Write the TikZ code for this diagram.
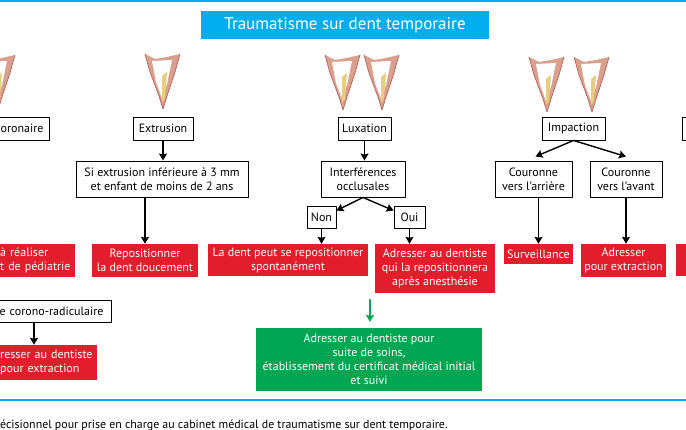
\documentclass[tikz,border=0pt]{standalone}
\usepackage{fontspec}
\setmainfont{PT Sans}
\usepackage{tikz}
\usetikzlibrary{arrows,arrows.meta}
\definecolor{traumRed}{RGB}{226,30,44}
\definecolor{traumGreen}{RGB}{0,166,81}
\definecolor{traumCyan}{RGB}{0,174,239}
\definecolor{toothGum}{RGB}{218,160,142}
\definecolor{toothRoot}{RGB}{232,204,128}
\definecolor{toothLine}{RGB}{184,96,86}
\newcommand{\MainColor}{black}
\newcommand{\BoxFont}{\fontsize{12}{14}\selectfont}
\tikzset{
  wbox/.style={draw=\MainColor,line width=0.9pt,fill=white,align=center,inner sep=0pt,font=\BoxFont},
  rbox/.style={fill=traumRed,text=white,align=center,inner sep=0pt,font=\BoxFont},
  gbox/.style={fill=traumGreen,text=white,align=center,inner sep=0pt,font=\BoxFont},
  arr/.style={->,line width=1.4pt,draw=\MainColor},
  tooth/.pic={
    \fill[toothGum] (0,0) -- (10,5) -- (22,3) -- (35,0) -- (30,18) -- (22,42) -- (18,55) -- (14,42) -- (5,18) -- cycle;
    \fill[white] (7,7) -- (27,6) -- (22,30) -- (17,44) -- (11,28) -- cycle;
    \fill[toothRoot] (17,22) -- (22,18) -- (20,44) -- (17,48) -- cycle;
    \draw[toothLine,line width=0.7pt] (0,0) -- (5,18) -- (14,42) -- (18,55) -- (22,42) -- (30,18) -- (35,0);
  }
}

\begin{document}
\begin{tikzpicture}[line cap=round,line join=round,>={Stealth[length=7pt,width=8pt,inset=1pt]},x=1pt,y=-1pt]
  \useasboundingbox (0,0) rectangle (686,430);
  \begin{scope}
  \clip (0,0) rectangle (686,430);
  \draw[traumCyan,line width=2pt] (0,1) -- (686,1);
  \draw[traumCyan,line width=2pt] (0,400) -- (686,400);
  \node[fill=traumCyan,text=white,minimum width=288pt,minimum height=28pt,inner sep=0pt,font=\fontsize{17}{20}\selectfont] (title) at (345,25) {Traumatisme sur dent temporaire};
  % teeth
  \foreach \tx/\ty in {-20/55,145/54,325/55,364/55,529/57,574/57}
    \pic at (\tx,\ty) {tooth};
  % first row
  \node[wbox,anchor=east,text width=84pt,align=right,minimum height=23pt,inner xsep=6pt] (coro) at (50,128.5) {oronaire};
  \node[wbox,minimum width=60pt,minimum height=23pt] (extr) at (163,128.5) {Extrusion};
  \node[wbox,minimum width=53pt,minimum height=23pt] (lux) at (364.5,128.5) {Luxation};
  \node[wbox,minimum width=63pt,minimum height=23pt] (imp) at (573.5,128.5) {Impaction};
  \node[wbox,anchor=west,minimum width=40pt,minimum height=23pt] (rpart) at (682,128.5) {};
  % second row
  \node[wbox,minimum width=172pt,minimum height=36pt] (cond) at (162,179) {Si extrusion inférieure à 3 mm\\et enfant de moins de 2 ans};
  \node[wbox,minimum width=84pt,minimum height=36pt] (interf) at (363,179) {Interférences\\occlusales};
  \node[wbox,minimum width=77pt,minimum height=36pt] (arriere) at (533.5,179) {Couronne\\vers l'arrière};
  \node[wbox,minimum width=72pt,minimum height=36pt] (avant) at (626,179) {Couronne\\vers l'avant};
  \node[wbox,minimum width=29pt,minimum height=22pt] (non) at (321.5,217) {Non};
  \node[wbox,minimum width=31pt,minimum height=22pt] (oui) at (409.5,217) {Oui};
  % red boxes
  \node[rbox,anchor=west,text width=74pt,align=left,inner xsep=1pt,minimum height=33pt] (pedia) at (-1,260.5) {à réaliser\\t de pédiatrie};
  \node[rbox,minimum width=106pt,minimum height=33pt] (repo) at (145,260.5) {Repositionner\\la dent doucement};
  \node[rbox,minimum width=160pt,minimum height=32pt] (spont) at (288,260) {La dent peut se repositionner\\spontanément};
  \node[rbox,minimum width=120pt,minimum height=49pt] (anest) at (435,268.5) {Adresser au dentiste\\qui la repositionnera\\après anesthésie};
  \node[rbox,minimum width=69pt,minimum height=20pt] (surv) at (538.5,254) {Surveillance};
  \node[rbox,minimum width=85pt,minimum height=33pt] (adext) at (623.5,260.5) {Adresser\\pour extraction};
  \node[rbox,anchor=west,minimum width=30pt,minimum height=32pt] (rright) at (676,260) {};
  % third row
  \node[wbox,anchor=east,text width=140pt,align=right,minimum height=22pt,inner xsep=8pt] (corad) at (112,311) {re corono-radiculaire};
  \node[rbox,anchor=west,text width=96pt,align=left,inner xsep=1pt,minimum height=35pt] (radext) at (-1,362.5) {resser au dentiste\\pour extraction};
  \node[gbox,minimum width=226pt,minimum height=63pt] (suivi) at (369,359.5) {Adresser au dentiste pour\\suite de soins,\\établissement du certificat médical initial\\et suivi};
  \coordinate (gtop) at (370,300);
  \coordinate (gbot) at (370,322);
  % connectors
  \draw[arr] (extr.south) -- (extr.south |- cond.north);
  \draw[arr] (repo.north |- cond.south) -- (repo.north);
  \draw[arr] (lux.south) -- (lux.south |- interf.north);
  \draw[arr] (interf.south) -- ([yshift=-5pt]non.north east);
  \draw[arr] (interf.south) -- ([yshift=-5pt]oui.north west);
  \draw[arr] (non.south) -- (non.south |- spont.north);
  \draw[arr] (oui.south) -- (oui.south |- anest.north);
  \draw[arr] (imp.south) -- ([xshift=2pt,yshift=4pt]arriere.north);
  \draw[arr] (imp.south) -- ([yshift=4pt]avant.north);
  \draw[arr] (surv.north |- arriere.south) -- (surv.north);
  \draw[arr] (avant.south) -- (avant.south |- adext.north);
  \draw[arr] ([xshift=35pt]radext.north west |- corad.south) -- ([xshift=35pt]radext.north west);
  \draw[arr,draw=traumGreen,fill=traumGreen,line width=2.2pt] (gtop) -- (gbot);
  \node[anchor=west,inner sep=0pt,font=\fontsize{11.9}{13}\selectfont] (caption) at (0,425) {écisionnel pour prise en charge au cabinet médical de traumatisme sur dent temporaire.};
  \end{scope}
\end{tikzpicture}
\end{document}
